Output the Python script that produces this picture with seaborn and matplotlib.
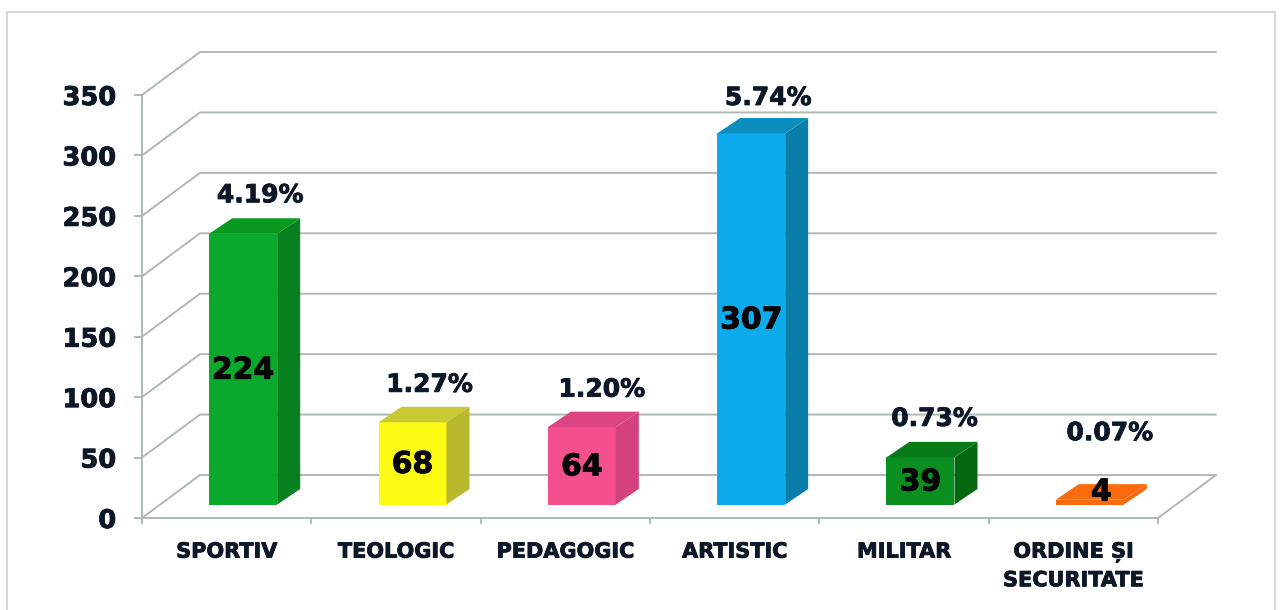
import numpy as np
import pandas as pd
import matplotlib
matplotlib.use("Agg")
import matplotlib.pyplot as plt
import matplotlib.patheffects as pe
from matplotlib.lines import Line2D
import seaborn as sns

categories = ["SPORTIV", "TEOLOGIC", "PEDAGOGIC", "ARTISTIC", "MILITAR", "ORDINE ȘI\nSECURITATE"]
values = [224, 68, 64, 307, 39, 4]
percents = ["4.19%", "1.27%", "1.20%", "5.74%", "0.73%", "0.07%"]
y_ticks = [0, 50, 100, 150, 200, 250, 300, 350]

front_colors = ["#0aa82c", "#fbfb14", "#f4508e", "#0eabec", "#0a8f20", "#fb6a0c"]
side_colors = ["#07801f", "#b9b92e", "#d4417f", "#0a7fa9", "#056811", "#fb6a0c"]
top_colors = ["#079a1f", "#c9c935", "#dc4482", "#0b8dbd", "#087a17", "#fb6a0c"]
pct_nudge = [(0, -1), (0, 0), (3, 0), (0, 2), (-3, -1), (3, 1)]   # small label shifts, pixels

W, H = 1283, 610
AX_L, AX_R, AX_T, AX_B = 142, 1158, 95, 518
GRID = "#aeb9b4"
INK = "#0e1728"

sns.set_theme(style="white")
plt.rcParams["font.family"] = ["DejaVu Sans"]
plt.rcParams["font.weight"] = "bold"

fig = plt.figure(figsize=(W / 100, H / 100), dpi=100, facecolor="white")
ax = fig.add_axes([AX_L / W, 1 - AX_B / H, (AX_R - AX_L) / W, (AX_B - AX_T) / H])
ax.set_facecolor("none")

df = pd.DataFrame({"category": categories, "value": values})
sns.barplot(data=df, x="category", y="value", hue="category", palette=front_colors,
            legend=False, width=68 / ((AX_R - AX_L) / 6), saturation=1, ax=ax, zorder=3,
            linewidth=0)

ax.set_xlim(-0.5, 5.5)
ax.set_ylim(0, 350)
xpx = 6 / (AX_R - AX_L)          # data units per pixel
ypx = 350 / (AX_B - AX_T)

# Room depth, bar inset and bar depth, in data units
room_dx, room_dy = 58 * xpx, 43 * ypx
inset_dx, inset_dy = 16.5 * xpx, 13.5 * ypx
bar_dx, bar_dy = 23 * xpx, 15.5 * ypx

heavy = [pe.withStroke(linewidth=0.6, foreground=INK)]
heavy_black = [pe.withStroke(linewidth=0.7, foreground="#050505")]

# Walls and floor
for t in y_ticks:
    ax.plot([-0.5, -0.5 + room_dx, 5.5 + room_dx], [t, t + room_dy, t + room_dy],
            color=GRID, lw=1.4, clip_on=False, zorder=1, solid_joinstyle="miter")
ax.plot([5.5, 5.5 + room_dx], [0, room_dy], color=GRID, lw=1.4, clip_on=False, zorder=1)

# Bars: move the fronts into the room, then add side and top faces
for i, patch in enumerate(ax.patches):
    patch.set_x(patch.get_x() + inset_dx)
    patch.set_y(inset_dy)
    patch.set_clip_on(False)
    x0, x1 = patch.get_x(), patch.get_x() + patch.get_width()
    y0, y1 = inset_dy, inset_dy + values[i]
    ax.fill([x1, x1 + bar_dx, x1 + bar_dx, x1], [y0, y0 + bar_dy, y1 + bar_dy, y1],
            color=side_colors[i], lw=0, clip_on=False, zorder=3)
    ax.fill([x0, x1, x1 + bar_dx, x0 + bar_dx], [y1, y1, y1 + bar_dy, y1 + bar_dy],
            color=top_colors[i], lw=0, clip_on=False, zorder=3)
    xc = (x0 + x1) / 2
    small = values[i] < 10
    label_y = y1 + bar_dy / 2 if small else (y0 + y1) / 2 - 1 * ypx
    label_x = xc + (bar_dx / 2 if small else 0)
    ax.text(label_x, label_y, str(values[i]), ha="center", va="center", fontsize=21.5,
            fontweight="bold", color="#050505", clip_on=False, zorder=5, path_effects=heavy_black)
    lift = 52 if small else 22
    ax.text(xc + (17 + pct_nudge[i][0]) * xpx, y1 + bar_dy + (lift - pct_nudge[i][1]) * ypx, percents[i],
            ha="center", va="center", fontsize=18, fontweight="bold", color=INK, clip_on=False,
            zorder=5, path_effects=heavy)

# Axes furniture
for s in ["top", "right"]:
    ax.spines[s].set_visible(False)
for s in ["left", "bottom"]:
    ax.spines[s].set_color(GRID)
    ax.spines[s].set_linewidth(1.4)
ax.set_xlabel("")
ax.set_ylabel("")
ax.set_yticks(y_ticks)
ax.tick_params(axis="y", length=6, width=1.4, color=GRID, pad=12.5, labelsize=18.5, labelcolor=INK, left=True)
ax.set_xticks(np.arange(-0.5, 6, 1))
ax.set_xticklabels([])
ax.tick_params(axis="x", which="major", length=4.5, width=1.4, color=GRID, bottom=True)
ax.set_xticks(np.arange(6), labels=categories, minor=True)
ax.tick_params(axis="x", which="minor", length=0, pad=17, labelsize=15, labelcolor=INK)
for lab in ax.get_xticklabels(minor=True):
    lab.set_fontweight("bold")
    lab.set_linespacing(1.5)
    lab.set_path_effects(heavy)
for lab in ax.get_yticklabels():
    lab.set_fontweight("bold")
    lab.set_path_effects(heavy)

# Outer frame of the scanned page
FRAME = "#cdd4d0"
fl, fr, ft = 7 / W, 1275 / W, 1 - 12 / H
for xs, ys in [([fl, fl], [0, ft]), ([fl, fr], [ft, ft]), ([fr, fr], [ft, 0])]:
    fig.add_artist(Line2D(xs, ys, color=FRAME, lw=1.2))

fig.savefig("out.png", dpi=100, facecolor="white")
